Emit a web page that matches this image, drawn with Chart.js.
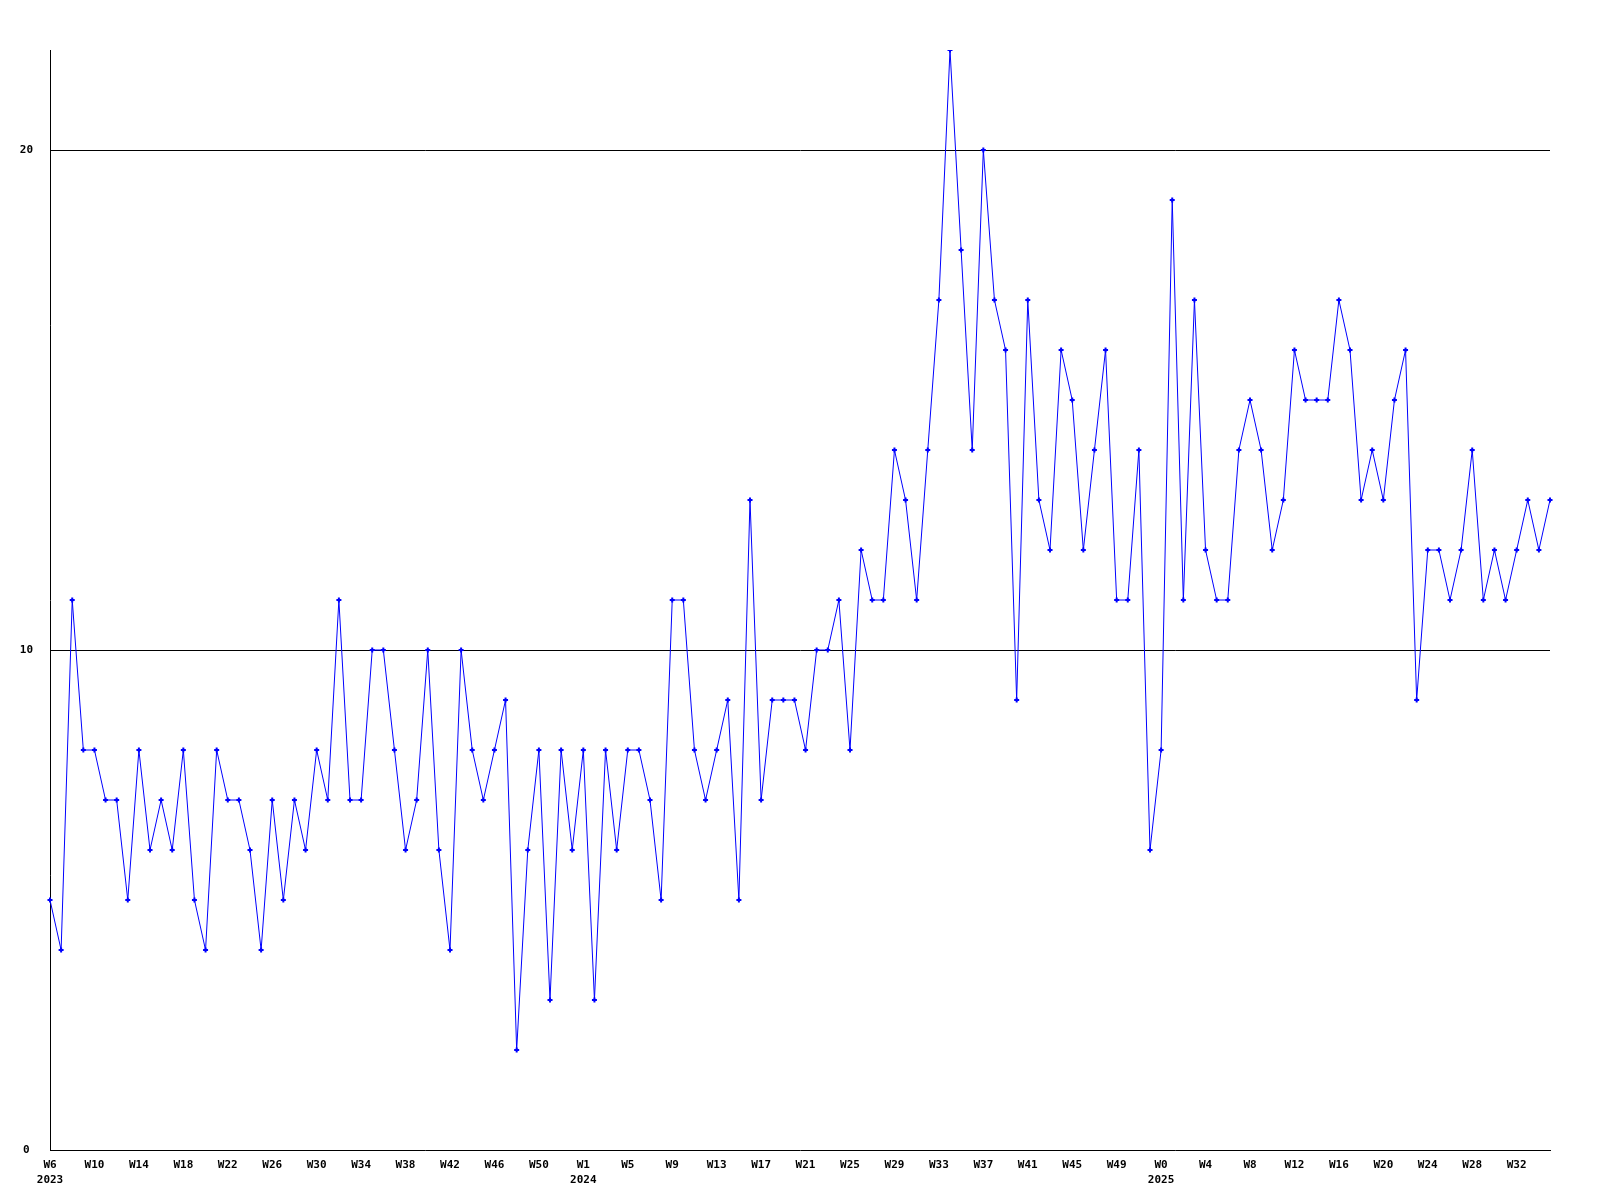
<!DOCTYPE html>
<html>
<head>
<meta charset="utf-8">
<script src="https://cdn.jsdelivr.net/npm/chart.js@4.4.1/dist/chart.umd.min.js"></script>
<style>
  html, body { margin: 0; padding: 0; background: #fff; }
  #wrap { width: 1600px; height: 1200px; }
</style>
</head>
<body>
<div id="wrap"><canvas id="weekly" width="1600" height="1200"></canvas></div>
<script>
// week ranges per year, in plot order
const YEAR_NAMES  = ['2023', '2024', '2025'];
const YEAR_FIRST  = [6, 1, 0];
const YEAR_LAST   = [53, 52, 35];
const LABEL_EVERY = 4;
const Y_TICKS     = [0, 10, 20];
const Y_MAX       = 22;

// one value per week
const counts = [
  5, 4, 11, 8, 8, 7, 7, 5, 8, 6, 7, 6, 8, 5, 4, 8, 7, 7, 6, 4, 7, 5, 7,
  6, 8, 7, 11, 7, 7, 10, 10, 8, 6, 7, 10, 6, 4, 10, 8, 7, 8, 9, 2, 6, 8, 3,
  8, 6, 8, 3, 8, 6, 8, 8, 7, 5, 11, 11, 8, 7, 8, 9, 5, 13, 7, 9, 9, 9,
  8, 10, 10, 11, 8, 12, 11, 11, 14, 13, 11, 14, 17, 22, 18, 14, 20, 17, 16, 9, 17, 13, 12,
  16, 15, 12, 14, 16, 11, 11, 14, 6, 8, 19, 11, 17, 12, 11, 11, 14, 15, 14, 12, 13, 16,
  15, 15, 15, 17, 16, 13, 14, 13, 15, 16, 9, 12, 12, 11, 12, 14, 11, 12, 11, 12, 13, 12, 13
];

// build category labels: 'W6', 'W7', ... and remember where each year starts
const weekLabels = [];
const yearStart  = {};
YEAR_NAMES.forEach((y, k) => {
  yearStart[weekLabels.length] = y;
  for (let w = YEAR_FIRST[k]; w <= YEAR_LAST[k]; w++) weekLabels.push('W' + w);
});

const FONT = { family: 'DejaVu Sans Mono', weight: 'bold', size: 11, lineHeight: 1.35 };

const ctx = document.getElementById('weekly').getContext('2d');
new Chart(ctx, {
  type: 'line',
  data: {
    labels: weekLabels,
    datasets: [{
      data: counts,
      borderColor: '#0000ff',
      borderWidth: 1,
      backgroundColor: '#0000ff',
      pointStyle: 'cross',
      pointRadius: 2.5,
      pointBorderWidth: 2,
      pointBorderColor: '#0000ff',
      pointBackgroundColor: '#0000ff',
      tension: 0,
      fill: false
    }]
  },
  options: {
    responsive: false,
    animation: false,
    devicePixelRatio: 1,
    layout: { padding: { top: 50, right: 50, left: 0, bottom: 0 } },
    plugins: {
      legend: { display: false },
      tooltip: { enabled: false }
    },
    scales: {
      x: {
        type: 'category',
        offset: false,
        grid: { display: false },
        border: { color: '#000', width: 1 },
        ticks: {
          autoSkip: false,
          maxRotation: 0,
          minRotation: 0,
          padding: 0,
          color: '#000',
          font: FONT,
          callback: (v, i) => {
            if (i % LABEL_EVERY !== 0) return '';
            const lbl = weekLabels[i];
            return yearStart[i] ? [lbl, yearStart[i]] : lbl;
          }
        },
        afterFit: s => { s.height = 50; }
      },
      y: {
        min: 0,
        max: Y_MAX,
        afterBuildTicks: s => { s.ticks = Y_TICKS.map(v => ({ value: v })); },
        grid: {
          color: c => c.tick && c.tick.value === 0 ? 'rgba(0,0,0,0)' : '#000',
          lineWidth: 1,
          drawTicks: false
        },
        border: { color: '#000', width: 1 },
        ticks: { padding: 17, crossAlign: 'center', color: '#000', font: FONT },
        afterFit: s => { s.width = 50; }
      }
    }
  }
});
</script>
</body>
</html>
